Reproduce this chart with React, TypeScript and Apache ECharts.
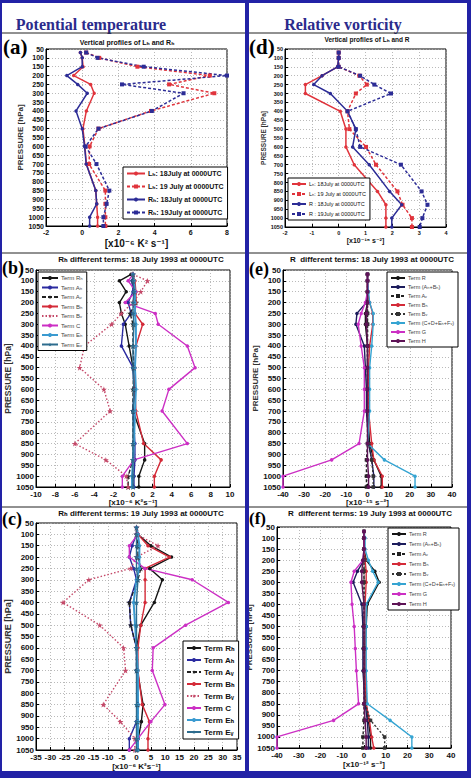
import React, { useEffect, useRef } from 'react';
import * as echarts from 'echarts';

// Pressure levels (hPa) shared by every profile
const LEV = [70, 100, 150, 200, 250, 300, 400, 500, 600, 700, 850, 925, 1000, 1050];

// (a) potential temperature: L_h and R_h profiles [x10^-6 K^2 s^-1]
const A_L18 = [-0.1, 0.0, 0.05, -0.47, 0.47, 0.66, 0.23, 0.04, 0.15, 0.23, 0.75, 0.8, 0.85, 0.85];
const A_L19 = [0.22, 0.94, 3.05, 7.05, 4.8, 7.3, 3.8, 0.9, 0.41, 0.38, 1.28, 1.28, 1.28, 1.28];
const A_R18 = [-0.1, 0.0, 0.0, -0.85, -0.25, 0.28, -0.34, 0.0, 0.13, 0.22, 0.75, 0.8, 0.41, 0.41];
const A_R19 = [0.22, 0.85, 3.4, 8.0, 2.2, 5.6, 3.85, 0.9, 0.19, 0.79, 1.5, 1.35, 1.17, 1.17];

// (d) relative vorticity: L_h and R profiles [x10^-15 s^-2]
const D_L18 = [0, 0, -0.04, -0.62, -1.24, -1.24, 0.06, 0.27, 0.27, 0.58, 1.45, 1.76, 1.76, 1.76];
const D_L19 = [0, 0, 0, 0.77, 1.05, 0.64, 0.33, 0.4, 1.02, 1.39, 2.19, 2.38, 2.73, 2.73];
const D_R18 = [0, 0, -0.04, -0.62, -0.93, -0.31, 0.33, 0.64, 0.52, 1.14, 1.9, 2.35, 1.98, 1.98];
const D_R19 = [0, 0, 0, 0.8, 1.33, 1.95, 0.33, 0.64, 0.8, 2.32, 3.09, 3.31, 3.12, 3.02];

// (b) R_h terms, 18 July 1993 [x10^-6 K^2 s^-1]
const B_R = [-0.2, -1.4, -0.7, -1.4, -1.2, -0.8, -0.4, 0.0, 0.2, 0.0, 1.2, 1.2, 0.6, 0.6];
const B_AH = [0.0, -0.1, 0.0, -0.5, -0.2, -1.0, -1.2, 0.0, 0.1, 0.0, 0.2, 0.2, 0.1, 0.1];
const B_AV = [0.0, 0.0, 0.2, 0.3, -0.3, 0.0, 0.0, 0.1, 0.0, 0.0, 0.0, 0.0, -0.5, -0.5];
const B_BH = [0.0, 0.2, 0.3, 0.3, 0.2, 1.0, 0.3, 0.2, 0.2, 0.3, 1.1, 2.9, 2.2, 2.2];
const B_BV = [0.0, 1.5, 0.8, 0.0, -1.2, -2.2, -5.0, -5.5, -3.0, -2.35, -6.0, -2.8, -0.7, -0.5];
const B_C = [0.0, -0.5, 0.3, -0.8, 2.3, 2.6, 5.6, 6.4, 3.7, 3.0, 5.6, 0.1, -1.1, -1.1];
const B_EH = [0.0, 0.1, 0.2, 0.2, 0.2, 0.3, 0.3, 0.2, 0.3, 0.2, 0.1, 0.0, -0.1, -0.1];
const B_EV = [0.0, 0.0, 0.1, 0.0, 0.0, 0.1, 0.0, 0.0, 0.1, 0.0, 0.0, 0.0, 0.0, 0.0];

// (c) R_h terms, 19 July 1993 [x10^-6 K^2 s^-1]
const C_R = [0, 0.5, 5.0, 12.2, 4.6, 9.0, 6.2, 1.5, 0.0, 0.3, 2.3, 1.7, 0.6, 0.6];
const C_AH = [0, 0, -1.5, -2.5, -1.0, 0, -2.5, -2.0, 0, 0, 0.5, 0, -2.5, -2.5];
const C_AV = [0, 0, 0.5, 0.5, 1.5, 0.5, -2.5, -2.0, 0, 0, 0.5, 0.5, 0, 0];
const C_BH = [0, 0.5, 4.0, 11.5, 3.0, 3.0, 3.0, 1.5, 0.5, 0.5, 2.0, 4.5, 4.0, 4.0];
const C_BV = [0, 0, 7.5, 0, -2.0, -16.6, -25.6, -12.8, -4.5, -3.8, -11.6, -5.6, -0.6, -0.6];
const C_C = [0, 0.5, -2.5, -2.5, 2.9, 19.4, 32.0, 17.1, 5.8, 5.5, 9.9, 5.0, 0.5, -2.5];
const C_EH = [0, 0.5, 1.0, 1.0, 1.0, 0, -1.0, -0.5, 0, 0.5, 0.5, 0.5, 0.5, 0.5];
const C_EV = [0, 0, 0, 0, 0, 0.5, 0, 0, 0, 0, 0, 0, 0, 0];

// (e) R terms, 18 July 1993 [x10^-15 s^-2]
const E_R = [0, 0, 0, 0, -1, -1, 0, 0, 0, 0, 1, 3, 6.5, 6.5];
const E_AB = [0, 0, 0, -0.5, -5, -5.5, -1.5, -1, -0.5, -0.5, 0.5, 2, 3, 3];
const E_AV = [0, 0, 0, 0, 0, 0, 0, 0, 0, 0, 0, -0.5, -0.5, -0.5];
const E_BH = [0, 0, 0, 1, 2.5, 2.5, 1, 0.5, 0.5, 0.5, 2, 3, 7, 7];
const E_BV = [0, 0, 0, 0, 0, 0, 0, 0, 0, 0, 0.5, 2, 2.7, 2.7];
const E_CDEF = [0, 0, 0.5, 1, 2.7, 2.7, 2, 1, 1, 1, 0, 8, 22.5, 22.5];
const E_G = [0, 0, 0, -1, -3, -4.4, -3, -1.5, -1.5, -1.5, -4, -17, -40, -40];
const E_H = [0, 0, 0, 0, -0.5, -0.5, 0, 0, 0, 0, 0, 0, 0.5, 0.5];

// (f) R terms, 19 July 1993 [x10^-12 s^-2]
const F_R = [0, 0, 0, 1, 5, 7, 1.5, 1, 0.5, 0.5, 1, 2, 3, 3];
const F_AB = [0, 0, 0, 0, -3, -5, -1, -0.5, -0.5, -0.5, 0.5, 1.5, 2, 2];
const F_AV = [0, 0, 0, 0, 0, 0, 0, 0, 0, 0, 0, 0, -0.5, -0.5];
const F_BH = [0, 0, 0, 0.5, 1, 1, 0.5, 0.5, 0.5, 0.5, 1, 2.5, 3.5, 4.5];
const F_BV = [0, 0, 0, 0, 0, 0, 0, 0, 0, 0, 0.5, 3, 9.5, 9.5];
const F_CDEF = [0, 0.5, 0.5, 2, 4, 6.5, 1, 1, 1, 1, 1.5, 12, 22, 22];
const F_G = [0, 0, 0, -0.5, -4.5, -6, -5.5, -4.5, -4, -3.5, -2.5, -14, -40, -40];
const F_H = [0, 0, 0, -0.5, -1, -1, 0, 0, 0, 0, 0, 0.5, 1, 1];

// Legend labels
const PROF_A = ['Lₕ: 18July at 0000UTC', 'Lₕ: 19 July at 0000UTC', 'Rₕ: 18July at 0000UTC', 'Rₕ: 19July at 0000UTC'];
const PROF_D = ['Lₕ: 18July at 0000UTC', 'Lₕ: 19 July at 0000UTC', 'R : 18July at 0000UTC', 'R : 19July at 0000UTC'];
const TERMS_RH = ['Term Rₕ', 'Term Aₕ', 'Term Aᵥ', 'Term Bₕ', 'Term Bᵥ', 'Term C', 'Term Eₕ', 'Term Eᵥ'];
const TERMS_R = ['Term R', 'Term (Aₕ+Bₕ)', 'Term Aᵥ ', 'Term Bₕ ', 'Term Bᵥ ', 'Term (C+D+Eₕ+Fᵥ)', 'Term G', 'Term H'];

const FONT = '"Liberation Sans", Arial, "DejaVu Sans", sans-serif';
const SERIF = '"Liberation Serif", "Times New Roman", serif';
const FRAME = '#2222a6';
const STAR = 'path://M50,0 L61,35 98,35 68,57 79,91 50,70 21,91 32,57 2,35 39,35 Z';
const DOT = { color: '#a8a8a8', type: [1, 2], width: 0.8 };

const RED = '#e0343c';
const NAVY = '#2c2c96';
const MAG = '#cc2fc4';
const CYAN = '#35a4d2';

const plain = (v: number) => String(v);

function xAx(gi: number, min: number, max: number, interval: number, name: string, fs: number, nfs: number, gap: number) {
  return {
    type: 'value', gridIndex: gi, min, max, interval,
    name, nameLocation: 'middle', nameGap: gap,
    nameTextStyle: { fontFamily: FONT, fontWeight: 'bold', fontSize: nfs, color: '#111' },
    axisLine: { show: true, onZero: false, lineStyle: { color: '#000', width: 1 } },
    axisTick: { show: true, inside: true, length: 3, lineStyle: { color: '#000' } },
    axisLabel: { fontFamily: FONT, fontWeight: 'bold', fontSize: fs, color: '#111', margin: 3, formatter: plain },
    splitLine: { show: true, lineStyle: DOT },
  };
}

function yAx(gi: number, fs: number, nfs: number, gap: number) {
  return {
    type: 'value', gridIndex: gi, min: 50, max: 1050, interval: 50, inverse: true,
    name: 'PRESSURE [hPa]', nameLocation: 'middle', nameGap: gap,
    nameTextStyle: { fontFamily: FONT, fontWeight: 'bold', fontSize: nfs, color: '#333' },
    axisLine: { show: true, onZero: false, lineStyle: { color: '#000', width: 1 } },
    axisTick: { show: true, inside: true, length: 3, lineStyle: { color: '#000' } },
    axisLabel: { fontFamily: FONT, fontWeight: 'bold', fontSize: fs, color: '#111', margin: 2, formatter: plain },
    splitLine: { show: true, lineStyle: DOT },
  };
}

type LineOpt = { symbol?: string; size?: number; dash?: any; width?: number };

function line(name: string, vals: number[], gi: number, color: string, o: LineOpt = {}) {
  return {
    type: 'line', name, xAxisIndex: gi, yAxisIndex: gi,
    data: vals.map((v, i) => [v, LEV[i]]),
    symbol: o.symbol ?? 'circle', symbolSize: o.size ?? 3.5,
    lineStyle: { color, width: o.width ?? 1.4, type: o.dash ?? 'solid' },
    itemStyle: { color },
    emphasis: { disabled: true },
    animation: false,
  };
}

function legend(names: string[], left: number, top: number, fs: number, gap: number, bold: boolean, iw: number, color = '#111') {
  return {
    show: true, data: names, left, top, orient: 'vertical', itemGap: gap,
    itemWidth: iw, itemHeight: 5, padding: [3, 4, 3, 3],
    backgroundColor: '#fff', borderColor: '#000', borderWidth: 1, borderRadius: 0,
    selectedMode: false, z: 10,
    textStyle: { fontFamily: FONT, fontSize: fs, fontWeight: bold ? 'bold' : 'normal', color, padding: [0, 0, 0, -2] },
  };
}

function txt(text: string, x: number, y: number, font: string, fill = '#111', align = 'center') {
  return {
    type: 'text', silent: true, z: 20,
    style: { text, x, y, font, fill, align, verticalAlign: 'middle', textAlign: align, textVerticalAlign: 'middle' },
  };
}

function hline(x1: number, x2: number, y: number) {
  return { type: 'line', silent: true, z: 20, shape: { x1, y1: y, x2, y2: y }, style: { stroke: '#222', lineWidth: 1 } };
}

function rect(x: number, y: number, width: number, height: number) {
  return { type: 'rect', silent: true, z: 30, shape: { x, y, width, height }, style: { fill: FRAME } };
}

function termsRh(gi: number, R: number[], AH: number[], AV: number[], BH: number[], BV: number[], C: number[], EH: number[], EV: number[]) {
  return [
    line(TERMS_RH[0], R, gi, '#141414', { size: 3.5 }),
    line(TERMS_RH[1], AH, gi, '#2a2aa0', { size: 3.5 }),
    line(TERMS_RH[2], AV, gi, '#222', { symbol: STAR, size: 6, dash: [4, 2] }),
    line(TERMS_RH[3], BH, gi, '#d42a38', { size: 3.5 }),
    line(TERMS_RH[4], BV, gi, '#c44868', { symbol: STAR, size: 6, dash: [1.5, 2] }),
    line(TERMS_RH[5], C, gi, MAG, { size: 3.5 }),
    line(TERMS_RH[6], EH, gi, '#3a9ad0', { size: 3.5, width: 2 }),
    line(TERMS_RH[7], EV, gi, '#2d6c8e', { symbol: STAR, size: 6 }),
  ];
}

function termsR(gi: number, R: number[], AB: number[], AV: number[], BH: number[], BV: number[], CDEF: number[], G: number[], H: number[]) {
  return [
    line(TERMS_R[0], R, gi, '#141414', { size: 3.5 }),
    line(TERMS_R[1], AB, gi, '#1c1c5c', { size: 3.5 }),
    line(TERMS_R[2], AV, gi, '#222', { symbol: 'rect', size: 3.5, dash: [3, 2] }),
    line(TERMS_R[3], BH, gi, '#d42a38', { size: 3.5 }),
    line(TERMS_R[4], BV, gi, '#333', { symbol: 'rect', size: 3.5, dash: [2, 2] }),
    line(TERMS_R[5], CDEF, gi, CYAN, { size: 3.5 }),
    line(TERMS_R[6], G, gi, MAG, { size: 3.5 }),
    line(TERMS_R[7], H, gi, '#5e1356', { size: 4 }),
  ];
}

export default function App() {
  const ref = useRef<HTMLDivElement>(null);

  useEffect(() => {
    if (!ref.current) return;
    const chart = echarts.init(ref.current, null, { renderer: 'svg' });

    const option = {
      animation: false,
      backgroundColor: '#fff',
      grid: [
        { left: 46, top: 49, width: 181, height: 177, show: true, borderColor: '#000', borderWidth: 1, backgroundColor: '#fff' },
        { left: 285, top: 49, width: 161, height: 178, show: true, borderColor: '#000', borderWidth: 1, backgroundColor: '#fff' },
        { left: 36, top: 270, width: 194, height: 217, show: true, borderColor: '#000', borderWidth: 1, backgroundColor: '#fff' },
        { left: 283, top: 270, width: 169, height: 217, show: true, borderColor: '#000', borderWidth: 1, backgroundColor: '#fff' },
        { left: 36, top: 523, width: 201, height: 227, show: true, borderColor: '#000', borderWidth: 1, backgroundColor: '#fff' },
        { left: 277, top: 527, width: 174, height: 221, show: true, borderColor: '#000', borderWidth: 1, backgroundColor: '#fff' },
      ],
      xAxis: [
        xAx(0, -2, 8, 2, '[x10⁻⁶ K² s⁻¹]', 7, 10, 12),
        xAx(1, -2, 4, 1, '[x10⁻¹⁵ s⁻²]', 5.5, 7, 7),
        xAx(2, -10, 10, 2, '[x10⁻⁶ K²s⁻¹]', 8, 8, 8),
        xAx(3, -40, 40, 10, '[x10⁻¹⁵ s⁻²]', 8, 8, 8),
        xAx(4, -35, 35, 5, '[x10⁻⁶ K²s⁻¹]', 8, 8, 12),
        xAx(5, -40, 40, 10, '[x10⁻¹² s⁻²]', 8, 8, 12),
      ],
      yAxis: [
        yAx(0, 7, 8, 14),
        yAx(1, 5.5, 6.5, 9),
        yAx(2, 8, 8.5, 15),
        yAx(3, 8, 8, 12),
        yAx(4, 8, 9, 16),
        yAx(5, 8, 8, 11),
      ],
      legend: [
        legend(PROF_A, 123, 167, 7, 6, true, 18),
        legend(PROF_D, 288, 178, 5.5, 4, false, 14),
        legend(TERMS_RH, 38, 272, 6, 3.5, false, 16, '#444'),
        legend(TERMS_R, 387, 272, 5.5, 3, false, 14, '#444'),
        legend(TERMS_RH, 183, 641, 8, 4, true, 14),
        legend(TERMS_R, 388, 528, 5.5, 4, false, 14, '#444'),
      ],
      series: [
        line(PROF_A[0], A_L18, 0, RED, { size: 3.5, width: 1.5 }),
        line(PROF_A[1], A_L19, 0, RED, { symbol: 'rect', size: 4, width: 1.5, dash: [3, 2] }),
        line(PROF_A[2], A_R18, 0, NAVY, { size: 3.5, width: 1.5 }),
        line(PROF_A[3], A_R19, 0, NAVY, { symbol: 'rect', size: 4, width: 1.5, dash: [3, 2] }),

        line(PROF_D[0], D_L18, 1, RED, { size: 3.5, width: 1.5 }),
        line(PROF_D[1], D_L19, 1, RED, { symbol: 'rect', size: 4, width: 1.5, dash: [3, 2] }),
        line(PROF_D[2], D_R18, 1, NAVY, { size: 3.5, width: 1.5 }),
        line(PROF_D[3], D_R19, 1, NAVY, { symbol: 'rect', size: 4, width: 1.5, dash: [3, 2] }),

        ...termsRh(2, B_R, B_AH, B_AV, B_BH, B_BV, B_C, B_EH, B_EV),
        ...termsR(3, E_R, E_AB, E_AV, E_BH, E_BV, E_CDEF, E_G, E_H),
        ...termsRh(4, C_R, C_AH, C_AV, C_BH, C_BV, C_C, C_EH, C_EV),
        ...termsR(5, F_R, F_AB, F_AV, F_BH, F_BV, F_CDEF, F_G, F_H),
      ],
      graphic: [
        // section headers
        txt('Potential temperature', 91, 24, `bold 16px ${SERIF}`, '#2b2b8c'),
        txt('Relative vorticity', 343, 24, `bold 16px ${SERIF}`, '#2b2b8c'),
        hline(2, 245, 33),
        hline(249, 467, 33),
        hline(2, 245, 253),
        hline(249, 467, 253),
        hline(2, 245, 507),
        hline(249, 467, 507),
        // panel letters
        txt('(a)', 3, 47, `bold 21px ${SERIF}`, '#000', 'left'),
        txt('(d)', 249, 47, `bold 21px ${SERIF}`, '#000', 'left'),
        txt('(b)', 2, 268, `bold 18px ${SERIF}`, '#000', 'left'),
        txt('(e)', 249, 269, `bold 18px ${SERIF}`, '#000', 'left'),
        txt('(c)', 2, 519, `bold 18px ${SERIF}`, '#000', 'left'),
        txt('(f)', 249, 518, `bold 17px ${SERIF}`, '#000', 'left'),
        // panel titles
        txt('Vertical profiles of Lₕ and Rₕ', 127, 42, `bold 7px ${FONT}`),
        txt('Vertical profiles of Lₕ and R', 367, 39, `bold 6.5px ${FONT}`),
        txt('Rₕ different terms: 18 July 1993 at 0000UTC', 141, 259, `bold 8px ${FONT}`),
        txt('R  different terms: 18 July 1993 at 0000UTC', 372, 259, `bold 8px ${FONT}`),
        txt('Rₕ different terms: 19 July 1993 at 0000UTC', 141, 513, `bold 8px ${FONT}`),
        txt('R  different terms: 19 July 1993 at 0000UTC', 370, 513, `bold 8px ${FONT}`),
        // frame
        rect(0, 0, 471, 3),
        rect(0, 0, 2, 778),
        rect(467, 0, 4, 778),
        rect(245, 0, 4, 776),
        rect(0, 771, 471, 7),
      ],
    };

    chart.setOption(option as any);
    return () => chart.dispose();
  }, []);

  return (
    <div
      ref={ref}
      style={{ position: 'absolute', left: 0, top: 0, width: 471, height: 778, background: '#fff' }}
    />
  );
}
